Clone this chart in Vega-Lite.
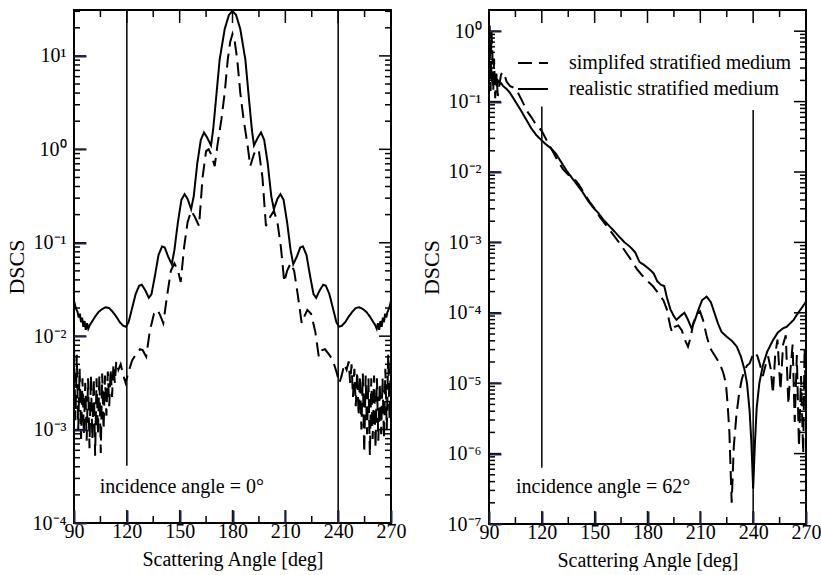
{
  "$schema": "https://vega.github.io/schema/vega-lite/v6.json",
  "background": "white",
  "padding": {"left": 4, "top": 6, "right": 5, "bottom": 0},
  "spacing": 12,
  "config": {
    "font": "Liberation Serif",
    "view": {"stroke": "black", "strokeWidth": 2},
    "axis": {"labelColor": "black", "titleColor": "black", "labelFont": "Liberation Serif", "titleFont": "Liberation Serif", "domain": false, "grid": false},
    "text": {"font": "Liberation Serif"},
    "legend": {"labelFont": "Liberation Serif"}
  },
  "resolve": {"scale": {"x": "independent", "y": "independent", "strokeDash": "independent"}, "legend": {"strokeDash": "independent"}},
  "datasets": {
    "xMajor": [{"t":90},{"t":120},{"t":150},{"t":180},{"t":210},{"t":240},{"t":270}],
    "xMinor": [{"t":105},{"t":135},{"t":165},{"t":195},{"t":225},{"t":255}],
    "yMajorLeft": [{"t":0.0001},{"t":0.001},{"t":0.01},{"t":0.1},{"t":1},{"t":10}],
    "yMinorLeft": [{"t":0.0002},{"t":0.0003},{"t":0.0004},{"t":0.0005},{"t":0.0006},{"t":0.0007},{"t":0.0008},{"t":0.0009},{"t":0.002},{"t":0.003},{"t":0.004},{"t":0.005},{"t":0.006},{"t":0.007},{"t":0.008},{"t":0.009},{"t":0.02},{"t":0.03},{"t":0.04},{"t":0.05},{"t":0.06},{"t":0.07},{"t":0.08},{"t":0.09},{"t":0.2},{"t":0.3},{"t":0.4},{"t":0.5},{"t":0.6},{"t":0.7},{"t":0.8},{"t":0.9},{"t":2},{"t":3},{"t":4},{"t":5},{"t":6},{"t":7},{"t":8},{"t":9},{"t":20},{"t":30}],
    "yMajorRight": [{"t":1e-7},{"t":1e-6},{"t":1e-5},{"t":0.0001},{"t":0.001},{"t":0.01},{"t":0.1},{"t":1}],
    "yMinorRight": [{"t":2e-7},{"t":3e-7},{"t":4e-7},{"t":5e-7},{"t":6e-7},{"t":7e-7},{"t":8e-7},{"t":9e-7},{"t":2e-6},{"t":3e-6},{"t":4e-6},{"t":5e-6},{"t":6e-6},{"t":7e-6},{"t":8e-6},{"t":9e-6},{"t":2e-5},{"t":3e-5},{"t":4e-5},{"t":5e-5},{"t":6e-5},{"t":7e-5},{"t":8e-5},{"t":9e-5},{"t":0.0002},{"t":0.0003},{"t":0.0004},{"t":0.0005},{"t":0.0006},{"t":0.0007},{"t":0.0008},{"t":0.0009},{"t":0.002},{"t":0.003},{"t":0.004},{"t":0.005},{"t":0.006},{"t":0.007},{"t":0.008},{"t":0.009},{"t":0.02},{"t":0.03},{"t":0.04},{"t":0.05},{"t":0.06},{"t":0.07},{"t":0.08},{"t":0.09},{"t":0.2},{"t":0.3},{"t":0.4},{"t":0.5},{"t":0.6},{"t":0.7},{"t":0.8},{"t":0.9}],
    "leftRealistic": [
      {"angle":90,"dscs":0.0240},{"angle":91,"dscs":0.0200},{"angle":92,"dscs":0.0182},{"angle":92.7,"dscs":0.0158},{"angle":93.3,"dscs":0.0174},{"angle":94,"dscs":0.0141},{"angle":94.6,"dscs":0.0158},{"angle":95.3,"dscs":0.0126},{"angle":96,"dscs":0.0145},{"angle":96.7,"dscs":0.0117},{"angle":97.4,"dscs":0.0138},{"angle":98.1,"dscs":0.0120},{"angle":99,"dscs":0.0132},{"angle":100,"dscs":0.0141},{"angle":102,"dscs":0.0162},{"angle":104,"dscs":0.0182},{"angle":106,"dscs":0.0195},{"angle":108,"dscs":0.0204},{"angle":110,"dscs":0.0200},{"angle":112,"dscs":0.0182},{"angle":114,"dscs":0.0162},{"angle":116,"dscs":0.0141},{"angle":118,"dscs":0.0129},{"angle":119.5,"dscs":0.0126},{"angle":121,"dscs":0.0141},{"angle":123,"dscs":0.0200},{"angle":125,"dscs":0.0282},{"angle":127,"dscs":0.0347},{"angle":128.5,"dscs":0.0355},{"angle":130.5,"dscs":0.0309},{"angle":132.5,"dscs":0.0257},{"angle":134,"dscs":0.0282},{"angle":136,"dscs":0.0447},{"angle":138,"dscs":0.0741},{"angle":140,"dscs":0.0912},{"angle":141.5,"dscs":0.0891},{"angle":143.5,"dscs":0.0708},{"angle":145.5,"dscs":0.0589},{"angle":147,"dscs":0.0832},{"angle":149,"dscs":0.166},{"angle":151,"dscs":0.288},{"angle":152.8,"dscs":0.331},{"angle":154.5,"dscs":0.295},{"angle":156.5,"dscs":0.229},{"angle":158,"dscs":0.316},{"angle":160,"dscs":0.708},{"angle":162,"dscs":1.259},{"angle":163.8,"dscs":1.514},{"angle":165.5,"dscs":1.349},{"angle":167.8,"dscs":1.10},{"angle":169,"dscs":1.62},{"angle":170.8,"dscs":3.72},{"angle":172.7,"dscs":9.12},{"angle":175.6,"dscs":19.5},{"angle":178,"dscs":27.5},{"angle":180,"dscs":30.2},
      {"angle":182,"dscs":27.5},{"angle":184.4,"dscs":19.5},{"angle":187.3,"dscs":9.12},{"angle":189.2,"dscs":3.72},{"angle":191,"dscs":1.62},{"angle":192.2,"dscs":1.10},{"angle":194.5,"dscs":1.349},{"angle":196.2,"dscs":1.514},{"angle":198,"dscs":1.259},{"angle":200,"dscs":0.708},{"angle":202,"dscs":0.316},{"angle":203.5,"dscs":0.229},{"angle":205.5,"dscs":0.295},{"angle":207.2,"dscs":0.331},{"angle":209,"dscs":0.288},{"angle":211,"dscs":0.166},{"angle":213,"dscs":0.0832},{"angle":214.5,"dscs":0.0589},{"angle":216.5,"dscs":0.0708},{"angle":218.5,"dscs":0.0891},{"angle":220,"dscs":0.0912},{"angle":222,"dscs":0.0741},{"angle":224,"dscs":0.0447},{"angle":226,"dscs":0.0282},{"angle":227.5,"dscs":0.0257},{"angle":229.5,"dscs":0.0309},{"angle":231.5,"dscs":0.0355},{"angle":233,"dscs":0.0347},{"angle":235,"dscs":0.0282},{"angle":237,"dscs":0.0200},{"angle":239,"dscs":0.0141},{"angle":240.5,"dscs":0.0126},{"angle":242,"dscs":0.0129},{"angle":244,"dscs":0.0141},{"angle":246,"dscs":0.0162},{"angle":248,"dscs":0.0182},{"angle":250,"dscs":0.0200},{"angle":252,"dscs":0.0204},{"angle":254,"dscs":0.0195},{"angle":256,"dscs":0.0182},{"angle":258,"dscs":0.0162},{"angle":260,"dscs":0.0141},{"angle":261,"dscs":0.0132},{"angle":261.9,"dscs":0.0120},{"angle":262.6,"dscs":0.0138},{"angle":263.3,"dscs":0.0117},{"angle":264,"dscs":0.0145},{"angle":264.7,"dscs":0.0126},{"angle":265.4,"dscs":0.0158},{"angle":266,"dscs":0.0141},{"angle":266.7,"dscs":0.0174},{"angle":267.3,"dscs":0.0158},{"angle":268,"dscs":0.0182},{"angle":269,"dscs":0.0200},{"angle":270,"dscs":0.0240}
    ],
    "leftSimplified": [
      {"angle":90,"dscs":0.00759},{"angle":90.8,"dscs":0.00126},{"angle":91.6,"dscs":0.00631},{"angle":92.4,"dscs":0.00100},{"angle":93.2,"dscs":0.00447},{"angle":94,"dscs":0.000794},{"angle":94.8,"dscs":0.00355},{"angle":95.6,"dscs":0.000891},{"angle":96.4,"dscs":0.00316},{"angle":97.2,"dscs":0.000759},{"angle":98,"dscs":0.00355},{"angle":98.8,"dscs":0.000631},{"angle":99.6,"dscs":0.00380},{"angle":100.4,"dscs":0.000794},{"angle":101.2,"dscs":0.00355},{"angle":102,"dscs":0.000525},{"angle":102.8,"dscs":0.00355},{"angle":103.6,"dscs":0.000891},{"angle":104.4,"dscs":0.00380},{"angle":105.2,"dscs":0.000562},{"angle":106,"dscs":0.00398},{"angle":106.8,"dscs":0.00100},{"angle":107.6,"dscs":0.00380},{"angle":108.4,"dscs":0.00141},{"angle":109.2,"dscs":0.00417},{"angle":110,"dscs":0.00178},{"angle":110.8,"dscs":0.00447},{"angle":111.6,"dscs":0.00224},{"angle":112.4,"dscs":0.00501},{"angle":113.2,"dscs":0.00316},{"angle":114,"dscs":0.00537},{"angle":115.2,"dscs":0.00437},{"angle":116.5,"dscs":0.00501},{"angle":118,"dscs":0.00380},{"angle":119.3,"dscs":0.00316},{"angle":121,"dscs":0.00417},{"angle":123,"dscs":0.00550},{"angle":125,"dscs":0.00631},{"angle":127.5,"dscs":0.00724},{"angle":129,"dscs":0.00708},{"angle":131,"dscs":0.00603},{"angle":133,"dscs":0.0112},{"angle":135.4,"dscs":0.0174},{"angle":137.5,"dscs":0.0191},{"angle":139,"dscs":0.0166},{"angle":140.7,"dscs":0.0138},{"angle":143,"dscs":0.0282},{"angle":145,"dscs":0.0501},{"angle":147,"dscs":0.0603},{"angle":149,"dscs":0.0501},{"angle":150.6,"dscs":0.0380},{"angle":152.5,"dscs":0.0891},{"angle":154.5,"dscs":0.166},{"angle":156.5,"dscs":0.219},{"angle":158.5,"dscs":0.191},{"angle":161,"dscs":0.151},{"angle":163,"dscs":0.501},{"angle":165,"dscs":0.955},{"angle":166.5,"dscs":1.0},{"angle":167.8,"dscs":0.891},{"angle":169.9,"dscs":0.661},{"angle":171.5,"dscs":1.122},{"angle":173.7,"dscs":2.089},{"angle":175.6,"dscs":4.074},{"angle":177.3,"dscs":9.12},{"angle":178.7,"dscs":14.13},{"angle":180,"dscs":17.2},
      {"angle":181.3,"dscs":14.13},{"angle":182.7,"dscs":9.12},{"angle":184.4,"dscs":4.074},{"angle":186.3,"dscs":2.089},{"angle":188.5,"dscs":1.122},{"angle":190.1,"dscs":0.661},{"angle":192.2,"dscs":0.891},{"angle":193.5,"dscs":1.0},{"angle":195,"dscs":0.955},{"angle":197,"dscs":0.501},{"angle":199,"dscs":0.151},{"angle":201.5,"dscs":0.191},{"angle":203.5,"dscs":0.219},{"angle":205.5,"dscs":0.166},{"angle":207.5,"dscs":0.0891},{"angle":209.4,"dscs":0.0380},{"angle":211,"dscs":0.0501},{"angle":213,"dscs":0.0603},{"angle":215,"dscs":0.0501},{"angle":217,"dscs":0.0282},{"angle":219.3,"dscs":0.0138},{"angle":221,"dscs":0.0166},{"angle":222.5,"dscs":0.0191},{"angle":224.6,"dscs":0.0174},{"angle":227,"dscs":0.0112},{"angle":229,"dscs":0.00603},{"angle":231,"dscs":0.00708},{"angle":232.5,"dscs":0.00724},{"angle":235,"dscs":0.00631},{"angle":237,"dscs":0.00550},{"angle":239,"dscs":0.00417},{"angle":240.7,"dscs":0.00316},{"angle":242,"dscs":0.00380},{"angle":243.5,"dscs":0.00501},{"angle":244.8,"dscs":0.00437},{"angle":246,"dscs":0.00537},{"angle":246.8,"dscs":0.00316},{"angle":247.6,"dscs":0.00501},{"angle":248.4,"dscs":0.00224},{"angle":249.2,"dscs":0.00447},{"angle":250,"dscs":0.00178},{"angle":250.8,"dscs":0.00417},{"angle":251.6,"dscs":0.00141},{"angle":252.4,"dscs":0.00380},{"angle":253.2,"dscs":0.00100},{"angle":254,"dscs":0.00398},{"angle":254.8,"dscs":0.000562},{"angle":255.6,"dscs":0.00380},{"angle":256.4,"dscs":0.000891},{"angle":257.2,"dscs":0.00355},{"angle":258,"dscs":0.000525},{"angle":258.8,"dscs":0.00355},{"angle":259.6,"dscs":0.000794},{"angle":260.4,"dscs":0.00380},{"angle":261.2,"dscs":0.000631},{"angle":262,"dscs":0.00355},{"angle":262.8,"dscs":0.000759},{"angle":263.6,"dscs":0.00316},{"angle":264.4,"dscs":0.000891},{"angle":265.2,"dscs":0.00355},{"angle":266,"dscs":0.000794},{"angle":266.8,"dscs":0.00447},{"angle":267.6,"dscs":0.00100},{"angle":268.4,"dscs":0.00631},{"angle":269.2,"dscs":0.00126},{"angle":270,"dscs":0.00759}
    ],
    "rightRealistic": [
      {"angle":90,"dscs":0.282},{"angle":90.6,"dscs":0.209},{"angle":91.2,"dscs":0.316},{"angle":91.8,"dscs":0.191},{"angle":92.4,"dscs":0.251},{"angle":93,"dscs":0.178},{"angle":93.6,"dscs":0.240},{"angle":94.3,"dscs":0.166},{"angle":95,"dscs":0.200},{"angle":96,"dscs":0.178},{"angle":97,"dscs":0.182},{"angle":98,"dscs":0.166},{"angle":100,"dscs":0.151},{"angle":102,"dscs":0.132},{"angle":105,"dscs":0.100},{"angle":108,"dscs":0.0759},{"angle":111,"dscs":0.0562},{"angle":114,"dscs":0.0417},{"angle":117,"dscs":0.0331},{"angle":119.5,"dscs":0.0288},{"angle":122,"dscs":0.0251},{"angle":125,"dscs":0.0219},{"angle":128,"dscs":0.0182},{"angle":131,"dscs":0.0138},{"angle":134,"dscs":0.0105},{"angle":137,"dscs":0.00832},{"angle":140,"dscs":0.00661},{"angle":143,"dscs":0.00525},{"angle":146,"dscs":0.00398},{"angle":149,"dscs":0.00316},{"angle":152,"dscs":0.00263},{"angle":155,"dscs":0.00209},{"angle":158,"dscs":0.00174},{"angle":161,"dscs":0.00145},{"angle":164,"dscs":0.00120},{"angle":167,"dscs":0.00100},{"angle":170,"dscs":0.000871},{"angle":173,"dscs":0.000724},{"angle":175.5,"dscs":0.000525},{"angle":178,"dscs":0.000479},{"angle":181,"dscs":0.000417},{"angle":183.5,"dscs":0.000363},{"angle":185.5,"dscs":0.000282},{"angle":187.5,"dscs":0.000251},{"angle":189.5,"dscs":0.000240},{"angle":191,"dscs":0.000166},{"angle":193,"dscs":0.000112},{"angle":195,"dscs":0.0000891},{"angle":196.5,"dscs":0.0000794},{"angle":198.5,"dscs":0.0000891},{"angle":201,"dscs":0.000100},{"angle":203,"dscs":0.0000794},{"angle":205,"dscs":0.0000603},{"angle":207,"dscs":0.0000794},{"angle":209,"dscs":0.000112},{"angle":211,"dscs":0.000151},{"angle":213.6,"dscs":0.000170},{"angle":216,"dscs":0.000141},{"angle":218,"dscs":0.000100},{"angle":220,"dscs":0.0000708},{"angle":222,"dscs":0.0000537},{"angle":225,"dscs":0.0000457},{"angle":228,"dscs":0.0000398},{"angle":230.7,"dscs":0.0000331},{"angle":233,"dscs":0.0000240},{"angle":235,"dscs":0.0000159},{"angle":236.5,"dscs":0.0000100},{"angle":238,"dscs":0.00000398},{"angle":239,"dscs":0.00000141},{"angle":240,"dscs":0.000000316},{"angle":241,"dscs":0.00000141},{"angle":242,"dscs":0.00000447},{"angle":243.5,"dscs":0.0000100},{"angle":245.5,"dscs":0.0000178},{"angle":248,"dscs":0.0000282},{"angle":251,"dscs":0.0000398},{"angle":254,"dscs":0.0000525},{"angle":257,"dscs":0.0000603},{"angle":259,"dscs":0.0000631},{"angle":261,"dscs":0.0000708},{"angle":263,"dscs":0.0000794},{"angle":265,"dscs":0.0000955},{"angle":267,"dscs":0.000112},{"angle":269,"dscs":0.000132},{"angle":270,"dscs":0.000145}
    ],
    "rightSimplified": [
      {"angle":90,"dscs":0.282},{"angle":90.4,"dscs":1.202},{"angle":90.9,"dscs":0.141},{"angle":91.4,"dscs":1.0},{"angle":91.9,"dscs":0.501},{"angle":92.4,"dscs":0.141},{"angle":92.9,"dscs":0.398},{"angle":93.5,"dscs":0.112},{"angle":94.2,"dscs":0.251},{"angle":95,"dscs":0.120},{"angle":95.8,"dscs":0.166},{"angle":96.8,"dscs":0.240},{"angle":97.8,"dscs":0.263},{"angle":98.8,"dscs":0.240},{"angle":100,"dscs":0.191},{"angle":102,"dscs":0.166},{"angle":104,"dscs":0.158},{"angle":106,"dscs":0.141},{"angle":108,"dscs":0.112},{"angle":110,"dscs":0.0891},{"angle":112,"dscs":0.0708},{"angle":114,"dscs":0.0603},{"angle":116,"dscs":0.0501},{"angle":118,"dscs":0.0437},{"angle":120,"dscs":0.0380},{"angle":123,"dscs":0.0275},{"angle":126,"dscs":0.0200},{"angle":129,"dscs":0.0145},{"angle":132,"dscs":0.0110},{"angle":135,"dscs":0.00912},{"angle":138,"dscs":0.00832},{"angle":141,"dscs":0.00661},{"angle":144,"dscs":0.00501},{"angle":147,"dscs":0.00380},{"angle":150,"dscs":0.00302},{"angle":153,"dscs":0.00229},{"angle":156,"dscs":0.00182},{"angle":159,"dscs":0.00145},{"angle":162,"dscs":0.00115},{"angle":165,"dscs":0.000912},{"angle":168,"dscs":0.000708},{"angle":171,"dscs":0.000550},{"angle":174,"dscs":0.000417},{"angle":177,"dscs":0.000339},{"angle":180,"dscs":0.000282},{"angle":183,"dscs":0.000240},{"angle":186,"dscs":0.000191},{"angle":189,"dscs":0.000151},{"angle":191,"dscs":0.000112},{"angle":193,"dscs":0.0000631},{"angle":194,"dscs":0.0000525},{"angle":195.5,"dscs":0.0000631},{"angle":197.5,"dscs":0.0000661},{"angle":199.5,"dscs":0.0000562},{"angle":201.5,"dscs":0.0000398},{"angle":203,"dscs":0.0000331},{"angle":204.5,"dscs":0.0000447},{"angle":206,"dscs":0.0000708},{"angle":208,"dscs":0.0000955},{"angle":209.8,"dscs":0.000105},{"angle":211.5,"dscs":0.0000794},{"angle":213.5,"dscs":0.0000479},{"angle":215.5,"dscs":0.0000316},{"angle":218,"dscs":0.0000251},{"angle":221,"dscs":0.0000191},{"angle":223,"dscs":0.0000141},{"angle":224.5,"dscs":0.0000100},{"angle":225.5,"dscs":0.00000501},{"angle":226.5,"dscs":0.00000200},{"angle":227.8,"dscs":0.000000200},{"angle":229,"dscs":0.00000126},{"angle":230.5,"dscs":0.00000355},{"angle":232,"dscs":0.00000708},{"angle":233.5,"dscs":0.0000112},{"angle":235,"dscs":0.0000151},{"angle":236.5,"dscs":0.0000178},{"angle":238,"dscs":0.0000191},{"angle":239.5,"dscs":0.0000240},{"angle":241,"dscs":0.0000275},{"angle":242.5,"dscs":0.0000240},{"angle":244,"dscs":0.0000178},{"angle":245.5,"dscs":0.0000126},{"angle":247,"dscs":0.0000178},{"angle":248.5,"dscs":0.0000240},{"angle":250,"dscs":0.0000159},{"angle":251.2,"dscs":0.00000708},{"angle":252.5,"dscs":0.0000251},{"angle":253.8,"dscs":0.0000417},{"angle":255.5,"dscs":0.00000794},{"angle":257,"dscs":0.0000355},{"angle":258.5,"dscs":0.0000479},{"angle":260,"dscs":0.00000501},{"angle":261.2,"dscs":0.0000159},{"angle":262.4,"dscs":0.0000355},{"angle":263.6,"dscs":0.00000282},{"angle":264.8,"dscs":0.0000251},{"angle":266,"dscs":0.00000126},{"angle":267.2,"dscs":0.0000126},{"angle":268.4,"dscs":0.00000100},{"angle":269.2,"dscs":0.0000316},{"angle":270,"dscs":0.00000501}
    ]
  },
  "hconcat": [
    {
      "width": 317,
      "height": 513,
      "resolve": {"axis": {"x": "independent", "y": "independent"}},
      "layer": [
        {
          "data": {"name": "leftRealistic"},
          "mark": {"type": "line", "color": "black", "strokeWidth": 2},
          "encoding": {
            "x": {"field": "angle", "type": "quantitative", "scale": {"domain": [90, 270], "nice": false, "zero": false},
              "axis": {"orient": "bottom", "values": [90, 120, 150, 180, 210, 240, 270], "offset": -13, "ticks": true, "tickSize": 13, "tickColor": "#202040", "tickWidth": 2, "zindex": 2, "domain": false, "grid": false, "labelFont": "Liberation Serif", "labelColor": "black", "labelFontSize": 20, "labelPadding": -2, "labelFlush": false, "labelOverlap": false, "title": "Scattering Angle [deg]", "titleFont": "Liberation Serif", "titleColor": "black", "titleFontSize": 20, "titleFontWeight": "normal", "titlePadding": 8}},
            "y": {"field": "dscs", "type": "quantitative", "scale": {"type": "log", "domain": [0.0001, 31], "nice": false},
              "axis": {"orient": "left", "values": [0.0001, 0.001, 0.01, 0.1, 1, 10], "offset": -12, "ticks": true, "tickSize": 12, "tickColor": "#202040", "tickWidth": 2, "zindex": 2, "domain": false, "grid": false, "labelFont": "Liberation Serif", "labelColor": "black", "labelFontSize": 20, "labelPadding": 8, "labelFlush": false, "labelOverlap": false, "labelExpr": "'10' + (datum.value < 0.9 ? '⁻' : '') + ['⁰','¹','²','³','⁴','⁵','⁶','⁷','⁸','⁹'][abs(round(log(datum.value)/LN10))]", "title": "DSCS", "titleFont": "Liberation Serif", "titleColor": "black", "titleFontSize": 22, "titleFontWeight": "normal", "titlePadding": 4}},
            "strokeDash": {"datum": "realistic stratified medium", "type": "nominal", "scale": {"domain": ["simplifed stratified medium", "realistic stratified medium"], "range": [[14, 7], [1, 0]]}, "legend": null}
          }
        },
        {
          "data": {"name": "leftSimplified"},
          "mark": {"type": "line", "color": "black", "strokeWidth": 2},
          "encoding": {
            "x": {"field": "angle", "type": "quantitative", "scale": {"domain": [90, 270], "nice": false, "zero": false}, "axis": null},
            "y": {"field": "dscs", "type": "quantitative", "scale": {"type": "log", "domain": [0.0001, 31], "nice": false}, "axis": null},
            "strokeDash": {"datum": "simplifed stratified medium", "type": "nominal", "legend": null}
          }
        },
        {
          "data": {"values": [{"angle": 120, "lo": 0.00041, "hi": 31}, {"angle": 240, "lo": 0.0001, "hi": 31}]},
          "mark": {"type": "rule", "color": "black", "strokeWidth": 1.5},
          "encoding": {
            "x": {"field": "angle", "type": "quantitative", "scale": {"domain": [90, 270], "nice": false, "zero": false}, "axis": null},
            "y": {"field": "lo", "type": "quantitative", "scale": {"type": "log", "domain": [0.0001, 31], "nice": false}, "axis": null},
            "y2": {"field": "hi"}
          }
        },
        {
          "data": {"values": [{"angle": 104.6, "dscs": 0.00021, "label": "incidence angle = 0°"}]},
          "mark": {"type": "text", "align": "left", "baseline": "alphabetic", "fontSize": 20, "color": "black"},
          "encoding": {
            "x": {"field": "angle", "type": "quantitative", "scale": {"domain": [90, 270], "nice": false, "zero": false}, "axis": null},
            "y": {"field": "dscs", "type": "quantitative", "scale": {"type": "log", "domain": [0.0001, 31], "nice": false}, "axis": null},
            "text": {"field": "label"}
          }
        },
        {
          "data": {"name": "xMajor"},
          "mark": {"type": "tick", "orient": "vertical", "size": 13, "thickness": 1.5, "color": "black", "opacity": 1, "yOffset": -6.5},
          "encoding": {
            "x": {"field": "t", "type": "quantitative", "scale": {"domain": [90, 270], "nice": false, "zero": false}, "axis": null},
            "y": {"datum": 0.0001, "type": "quantitative", "scale": {"type": "log", "domain": [0.0001, 31], "nice": false}, "axis": null}
          }
        },
        {
          "data": {"name": "xMinor"},
          "mark": {"type": "tick", "orient": "vertical", "size": 7, "thickness": 1.5, "color": "black", "opacity": 1, "yOffset": -3.5},
          "encoding": {
            "x": {"field": "t", "type": "quantitative", "scale": {"domain": [90, 270], "nice": false, "zero": false}, "axis": null},
            "y": {"datum": 0.0001, "type": "quantitative", "scale": {"type": "log", "domain": [0.0001, 31], "nice": false}, "axis": null}
          }
        },
        {
          "data": {"name": "xMajor"},
          "mark": {"type": "tick", "orient": "vertical", "size": 13, "thickness": 1.5, "color": "black", "opacity": 1, "yOffset": 6.5},
          "encoding": {
            "x": {"field": "t", "type": "quantitative", "scale": {"domain": [90, 270], "nice": false, "zero": false}, "axis": null},
            "y": {"datum": 31, "type": "quantitative", "scale": {"type": "log", "domain": [0.0001, 31], "nice": false}, "axis": null}
          }
        },
        {
          "data": {"name": "xMinor"},
          "mark": {"type": "tick", "orient": "vertical", "size": 7, "thickness": 1.5, "color": "black", "opacity": 1, "yOffset": 3.5},
          "encoding": {
            "x": {"field": "t", "type": "quantitative", "scale": {"domain": [90, 270], "nice": false, "zero": false}, "axis": null},
            "y": {"datum": 31, "type": "quantitative", "scale": {"type": "log", "domain": [0.0001, 31], "nice": false}, "axis": null}
          }
        },
        {
          "data": {"name": "yMajorLeft"},
          "mark": {"type": "tick", "orient": "horizontal", "size": 12, "thickness": 1.5, "color": "black", "opacity": 1, "xOffset": 6},
          "encoding": {
            "x": {"datum": 90, "type": "quantitative", "scale": {"domain": [90, 270], "nice": false, "zero": false}, "axis": null},
            "y": {"field": "t", "type": "quantitative", "scale": {"type": "log", "domain": [0.0001, 31], "nice": false}, "axis": null}
          }
        },
        {
          "data": {"name": "yMinorLeft"},
          "mark": {"type": "tick", "orient": "horizontal", "size": 6, "thickness": 1.5, "color": "black", "opacity": 1, "xOffset": 3},
          "encoding": {
            "x": {"datum": 90, "type": "quantitative", "scale": {"domain": [90, 270], "nice": false, "zero": false}, "axis": null},
            "y": {"field": "t", "type": "quantitative", "scale": {"type": "log", "domain": [0.0001, 31], "nice": false}, "axis": null}
          }
        },
        {
          "data": {"name": "yMajorLeft"},
          "mark": {"type": "tick", "orient": "horizontal", "size": 12, "thickness": 1.5, "color": "black", "opacity": 1, "xOffset": -6},
          "encoding": {
            "x": {"datum": 270, "type": "quantitative", "scale": {"domain": [90, 270], "nice": false, "zero": false}, "axis": null},
            "y": {"field": "t", "type": "quantitative", "scale": {"type": "log", "domain": [0.0001, 31], "nice": false}, "axis": null}
          }
        },
        {
          "data": {"name": "yMinorLeft"},
          "mark": {"type": "tick", "orient": "horizontal", "size": 6, "thickness": 1.5, "color": "black", "opacity": 1, "xOffset": -3},
          "encoding": {
            "x": {"datum": 270, "type": "quantitative", "scale": {"domain": [90, 270], "nice": false, "zero": false}, "axis": null},
            "y": {"field": "t", "type": "quantitative", "scale": {"type": "log", "domain": [0.0001, 31], "nice": false}, "axis": null}
          }
        }
      ]
    },
    {
      "width": 317,
      "height": 514,
      "resolve": {"axis": {"x": "independent", "y": "independent"}},
      "layer": [
        {
          "data": {"name": "rightRealistic"},
          "mark": {"type": "line", "color": "black", "strokeWidth": 2},
          "encoding": {
            "x": {"field": "angle", "type": "quantitative", "scale": {"domain": [90, 270], "nice": false, "zero": false},
              "axis": {"orient": "bottom", "values": [90, 120, 150, 180, 210, 240, 270], "offset": -13, "ticks": true, "tickSize": 13, "tickColor": "#202040", "tickWidth": 2, "zindex": 2, "domain": false, "grid": false, "labelFont": "Liberation Serif", "labelColor": "black", "labelFontSize": 20, "labelPadding": -2, "labelFlush": false, "labelOverlap": false, "title": "Scattering Angle [deg]", "titleFont": "Liberation Serif", "titleColor": "black", "titleFontSize": 20, "titleFontWeight": "normal", "titlePadding": 8}},
            "y": {"field": "dscs", "type": "quantitative", "scale": {"type": "log", "domain": [1e-7, 2], "nice": false},
              "axis": {"orient": "left", "values": [1e-7, 1e-6, 1e-5, 0.0001, 0.001, 0.01, 0.1, 1], "offset": -12, "ticks": true, "tickSize": 12, "tickColor": "#202040", "tickWidth": 2, "zindex": 2, "domain": false, "grid": false, "labelFont": "Liberation Serif", "labelColor": "black", "labelFontSize": 20, "labelPadding": 8, "labelFlush": false, "labelOverlap": false, "labelExpr": "'10' + (datum.value < 0.9 ? '⁻' : '') + ['⁰','¹','²','³','⁴','⁵','⁶','⁷','⁸','⁹'][abs(round(log(datum.value)/LN10))]", "title": "DSCS", "titleFont": "Liberation Serif", "titleColor": "black", "titleFontSize": 22, "titleFontWeight": "normal", "titlePadding": 4}},
            "strokeDash": {"datum": "realistic stratified medium", "type": "nominal", "scale": {"domain": ["simplifed stratified medium", "realistic stratified medium"], "range": [[14, 7], [1, 0]]},
              "legend": {"orient": "none", "legendX": 28, "legendY": 37, "title": null, "symbolType": "stroke", "symbolSize": 900, "symbolStrokeWidth": 2, "symbolStrokeColor": "black", "labelFont": "Liberation Serif", "labelFontSize": 20, "labelOffset": 20, "rowPadding": -2, "padding": 0, "labelColor": "black", "labelLimit": 400}}
          }
        },
        {
          "data": {"name": "rightSimplified"},
          "mark": {"type": "line", "color": "black", "strokeWidth": 2},
          "encoding": {
            "x": {"field": "angle", "type": "quantitative", "scale": {"domain": [90, 270], "nice": false, "zero": false}, "axis": null},
            "y": {"field": "dscs", "type": "quantitative", "scale": {"type": "log", "domain": [1e-7, 2], "nice": false}, "axis": null},
            "strokeDash": {"datum": "simplifed stratified medium", "type": "nominal"}
          }
        },
        {
          "data": {"values": [{"angle": 120, "lo": 6.3e-7, "hi": 0.085}, {"angle": 240, "lo": 1e-7, "hi": 0.076}]},
          "mark": {"type": "rule", "color": "black", "strokeWidth": 1.5},
          "encoding": {
            "x": {"field": "angle", "type": "quantitative", "scale": {"domain": [90, 270], "nice": false, "zero": false}, "axis": null},
            "y": {"field": "lo", "type": "quantitative", "scale": {"type": "log", "domain": [1e-7, 2], "nice": false}, "axis": null},
            "y2": {"field": "hi"}
          }
        },
        {
          "data": {"values": [{"angle": 105.3, "dscs": 2.8e-7, "label": "incidence angle = 62°"}]},
          "mark": {"type": "text", "align": "left", "baseline": "alphabetic", "fontSize": 20, "color": "black"},
          "encoding": {
            "x": {"field": "angle", "type": "quantitative", "scale": {"domain": [90, 270], "nice": false, "zero": false}, "axis": null},
            "y": {"field": "dscs", "type": "quantitative", "scale": {"type": "log", "domain": [1e-7, 2], "nice": false}, "axis": null},
            "text": {"field": "label"}
          }
        },
        {
          "data": {"name": "xMajor"},
          "mark": {"type": "tick", "orient": "vertical", "size": 13, "thickness": 1.5, "color": "black", "opacity": 1, "yOffset": -6.5},
          "encoding": {
            "x": {"field": "t", "type": "quantitative", "scale": {"domain": [90, 270], "nice": false, "zero": false}, "axis": null},
            "y": {"datum": 1e-7, "type": "quantitative", "scale": {"type": "log", "domain": [1e-7, 2], "nice": false}, "axis": null}
          }
        },
        {
          "data": {"name": "xMinor"},
          "mark": {"type": "tick", "orient": "vertical", "size": 7, "thickness": 1.5, "color": "black", "opacity": 1, "yOffset": -3.5},
          "encoding": {
            "x": {"field": "t", "type": "quantitative", "scale": {"domain": [90, 270], "nice": false, "zero": false}, "axis": null},
            "y": {"datum": 1e-7, "type": "quantitative", "scale": {"type": "log", "domain": [1e-7, 2], "nice": false}, "axis": null}
          }
        },
        {
          "data": {"name": "xMajor"},
          "mark": {"type": "tick", "orient": "vertical", "size": 13, "thickness": 1.5, "color": "black", "opacity": 1, "yOffset": 6.5},
          "encoding": {
            "x": {"field": "t", "type": "quantitative", "scale": {"domain": [90, 270], "nice": false, "zero": false}, "axis": null},
            "y": {"datum": 2, "type": "quantitative", "scale": {"type": "log", "domain": [1e-7, 2], "nice": false}, "axis": null}
          }
        },
        {
          "data": {"name": "xMinor"},
          "mark": {"type": "tick", "orient": "vertical", "size": 7, "thickness": 1.5, "color": "black", "opacity": 1, "yOffset": 3.5},
          "encoding": {
            "x": {"field": "t", "type": "quantitative", "scale": {"domain": [90, 270], "nice": false, "zero": false}, "axis": null},
            "y": {"datum": 2, "type": "quantitative", "scale": {"type": "log", "domain": [1e-7, 2], "nice": false}, "axis": null}
          }
        },
        {
          "data": {"name": "yMajorRight"},
          "mark": {"type": "tick", "orient": "horizontal", "size": 12, "thickness": 1.5, "color": "black", "opacity": 1, "xOffset": 6},
          "encoding": {
            "x": {"datum": 90, "type": "quantitative", "scale": {"domain": [90, 270], "nice": false, "zero": false}, "axis": null},
            "y": {"field": "t", "type": "quantitative", "scale": {"type": "log", "domain": [1e-7, 2], "nice": false}, "axis": null}
          }
        },
        {
          "data": {"name": "yMinorRight"},
          "mark": {"type": "tick", "orient": "horizontal", "size": 6, "thickness": 1.5, "color": "black", "opacity": 1, "xOffset": 3},
          "encoding": {
            "x": {"datum": 90, "type": "quantitative", "scale": {"domain": [90, 270], "nice": false, "zero": false}, "axis": null},
            "y": {"field": "t", "type": "quantitative", "scale": {"type": "log", "domain": [1e-7, 2], "nice": false}, "axis": null}
          }
        },
        {
          "data": {"name": "yMajorRight"},
          "mark": {"type": "tick", "orient": "horizontal", "size": 12, "thickness": 1.5, "color": "black", "opacity": 1, "xOffset": -6},
          "encoding": {
            "x": {"datum": 270, "type": "quantitative", "scale": {"domain": [90, 270], "nice": false, "zero": false}, "axis": null},
            "y": {"field": "t", "type": "quantitative", "scale": {"type": "log", "domain": [1e-7, 2], "nice": false}, "axis": null}
          }
        },
        {
          "data": {"name": "yMinorRight"},
          "mark": {"type": "tick", "orient": "horizontal", "size": 6, "thickness": 1.5, "color": "black", "opacity": 1, "xOffset": -3},
          "encoding": {
            "x": {"datum": 270, "type": "quantitative", "scale": {"domain": [90, 270], "nice": false, "zero": false}, "axis": null},
            "y": {"field": "t", "type": "quantitative", "scale": {"type": "log", "domain": [1e-7, 2], "nice": false}, "axis": null}
          }
        }
      ]
    }
  ]
}
